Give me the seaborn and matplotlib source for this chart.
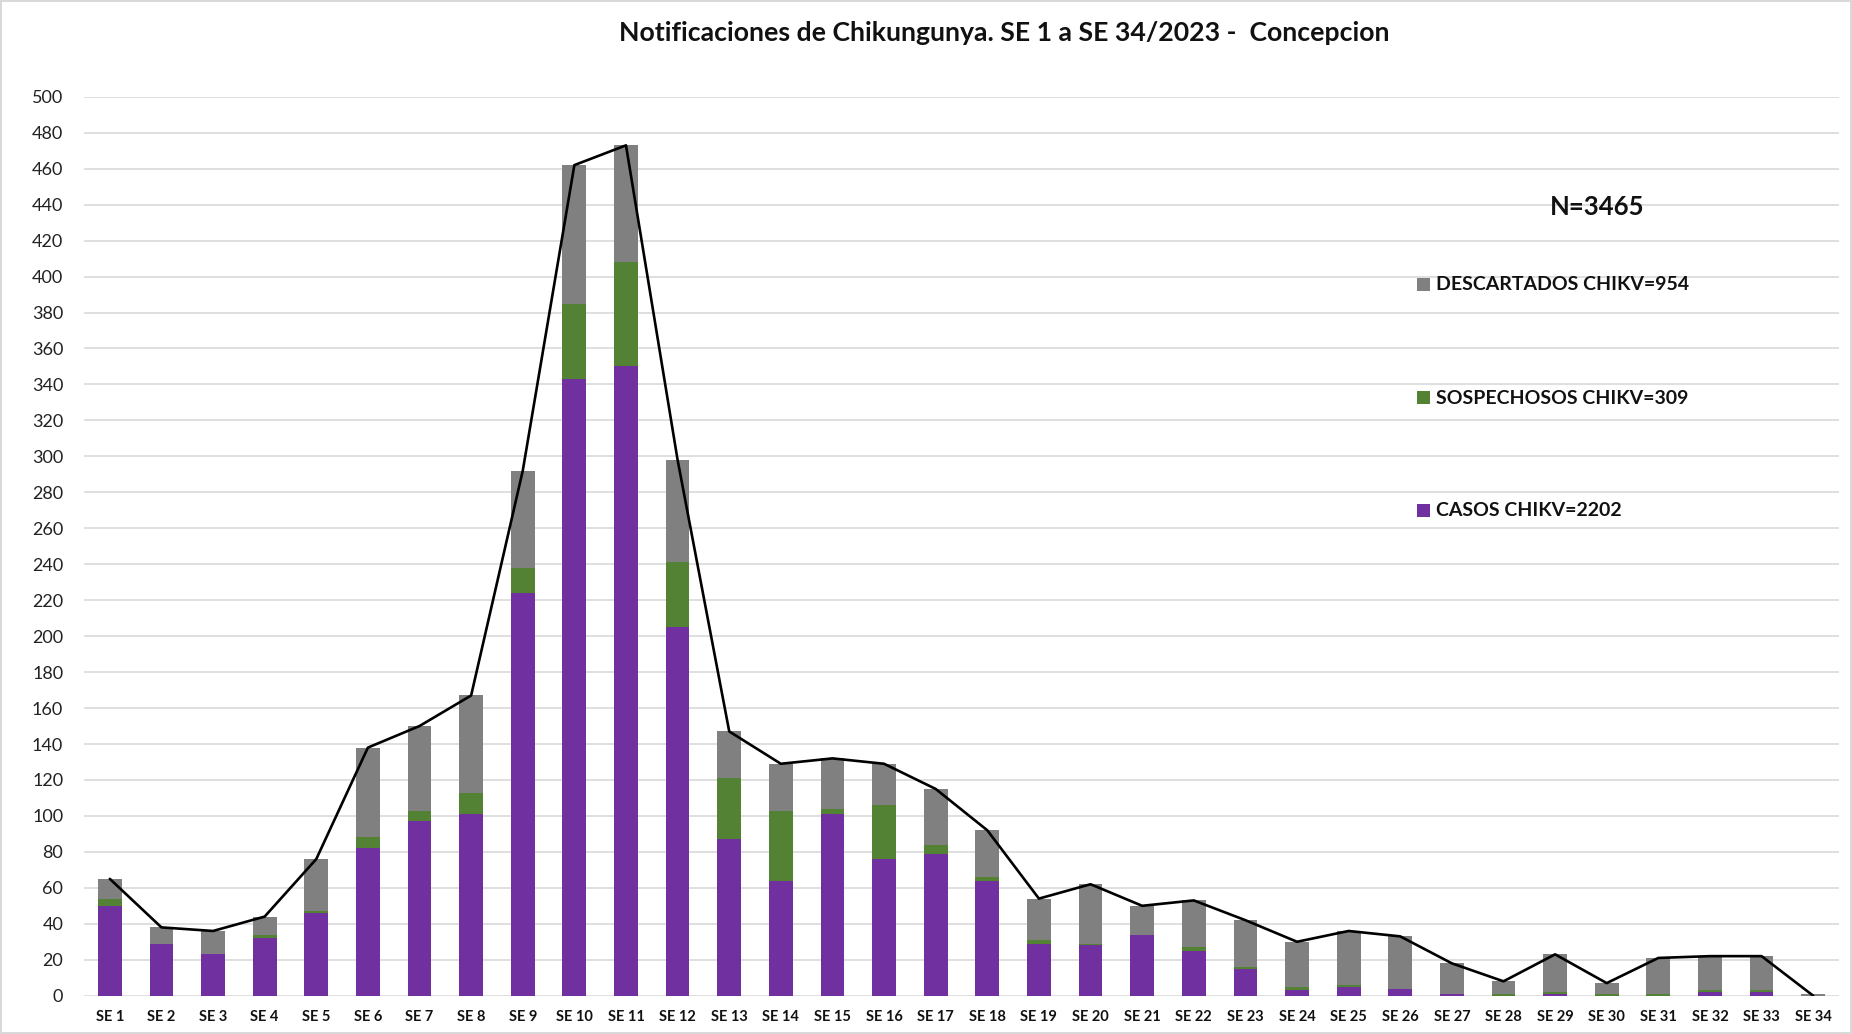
import numpy as np
import pandas as pd
import matplotlib
matplotlib.use("Agg")
import matplotlib.pyplot as plt
from matplotlib.patches import Rectangle
import seaborn as sns

weeks = [f"SE {i}" for i in range(1, 35)]
casos = [50, 29, 23, 32, 46, 82, 97, 101, 224, 343, 350, 205, 87, 64, 101, 76, 79,
         64, 29, 28, 34, 25, 15, 3, 5, 4, 1, 0, 1, 0, 0, 2, 2, 0]
sospechosos = [4, 0, 0, 2, 1, 6, 6, 12, 14, 42, 58, 36, 34, 39, 3, 30, 5,
               2, 2, 1, 0, 2, 1, 2, 1, 0, 0, 1, 1, 1, 1, 1, 1, 0]
descartados = [11, 9, 13, 10, 29, 50, 47, 54, 54, 77, 65, 57, 26, 26, 28, 23, 31,
               26, 23, 33, 16, 26, 26, 25, 30, 29, 17, 7, 21, 6, 20, 19, 19, 1]
linea_total = [65, 38, 36, 44, 76, 138, 150, 167, 292, 462, 473, 298, 147, 129, 132, 129, 115,
               92, 54, 62, 50, 53, 42, 30, 36, 33, 18, 8, 23, 7, 21, 22, 22, 0]

title = "Notificaciones de Chikungunya. SE 1 a SE 34/2023 -  Concepcion"
n_label = "N=3465"
legend_labels = ["DESCARTADOS CHIKV=954", "SOSPECHOSOS CHIKV=309", "CASOS CHIKV=2202"]
yticks = list(range(0, 501, 20))

C_PURPLE = "#7030A0"
C_GREEN = "#548235"
C_GRAY = "#808080"

df = pd.DataFrame({"week": weeks, "casos": casos, "sosp": sospechosos, "desc": descartados,
                   "total": linea_total})
df["b2"] = df["casos"] + df["sosp"]
df["b3"] = df["b2"] + df["desc"]

sns.set_theme(style="white")
plt.rcParams["font.family"] = ["Lato", "DejaVu Sans"]

W, H = 1852, 1034
fig = plt.figure(figsize=(W / 100, H / 100), dpi=100)
fig.patch.set_edgecolor("#d9d9d9")
fig.patch.set_linewidth(1.5)
ax = fig.add_axes([84 / W, 38.3 / H, (1839 - 84) / W, (995.7 - 96.8) / H])

bw = 0.46
sns.barplot(data=df, x="week", y="desc", bottom=df["b2"], color=C_GRAY, width=bw,
            saturation=1, ax=ax, linewidth=0)
sns.barplot(data=df, x="week", y="sosp", bottom=df["casos"], color=C_GREEN, width=bw,
            saturation=1, ax=ax, linewidth=0)
sns.barplot(data=df, x="week", y="casos", color=C_PURPLE, width=bw,
            saturation=1, ax=ax, linewidth=0)
sns.lineplot(x=np.arange(len(weeks)), y=df["total"].values, color="black", linewidth=1.9,
             ax=ax, sort=False)

ax.set_ylim(0, 500)
ax.set_xlim(-0.5, len(weeks) - 0.5)
ax.set_yticks(yticks)
ax.set_yticklabels([str(v) for v in yticks], fontsize=13, color="#222222")
ax.set_xticks(range(len(weeks)))
ax.set_xticklabels(weeks, fontsize=10.5, fontweight="bold", color="#111111")
ax.tick_params(axis="both", length=0)
ax.tick_params(axis="x", pad=10)
ax.tick_params(axis="y", pad=15)
ax.set_xlabel("")
ax.set_ylabel("")
ax.grid(axis="y", color="#d9d9d9", linewidth=1.2)
ax.set_axisbelow(True)
for s in ax.spines.values():
    s.set_visible(False)

fig.text(1004 / W, 1 - 33 / H, title, ha="center", va="center", fontsize=19.2,
         fontweight="bold", color="#111111")
fig.text(1597 / W, 1 - 207 / H, n_label, ha="center", va="center", fontsize=18.5,
         fontweight="bold", color="#111111")
leg_colors = [C_GRAY, C_GREEN, C_PURPLE]
leg_y = [284, 398, 510]
for lab, col, yy in zip(legend_labels, leg_colors, leg_y):
    fig.patches.append(Rectangle(((1417) / W, 1 - (yy + 6.5) / H), 13 / W, 13 / H,
                                 transform=fig.transFigure, facecolor=col, edgecolor="none"))
    fig.text(1436 / W, 1 - yy / H, lab, ha="left", va="center", fontsize=14,
             fontweight="bold", color="#111111")

fig.savefig("out.png", dpi=100)
